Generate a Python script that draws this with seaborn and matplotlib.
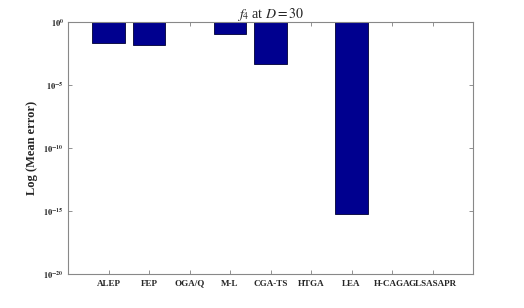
import matplotlib
matplotlib.use("Agg")
import matplotlib.pyplot as plt
import seaborn as sns
import numpy as np

# data (mean error, log scale)
methods = ["ALEP", "FEP", "OGA/Q", "M-L", "CGA-TS", "HTGA", "LEA", "H-CAGA", "GLSASAPR"]
mean_error = [0.023, 0.015, np.nan, 0.11, 4.4e-4, np.nan, 6e-16, np.nan, np.nan]
ytick_exps = [0, -5, -10, -15, -20]

sns.set_style("white")
plt.rcParams["font.family"] = ["Liberation Serif", "DejaVu Serif"]
plt.rcParams["mathtext.fontset"] = "stix"

fig = plt.figure(figsize=(5.24, 3.08), dpi=100)
ax = fig.add_axes([0.13, 0.1104, 0.7727, 0.8182])

# bars hang down from 10^0, as in the MATLAB original
heights = [v - 1 for v in mean_error]
sns.barplot(x=methods, y=heights, bottom=1, color="#00008f", edgecolor="#000033",
            linewidth=0.6, width=0.8, saturation=1, ax=ax)

ax.set_yscale("log")
ax.set_ylim(1e-20, 1)
ax.set_xlim(-1, len(methods))

ax.set_yticks([10.0 ** e for e in ytick_exps])
ax.set_yticklabels([r"$\mathbf{10^{%d}}$" % e for e in ytick_exps], fontsize=6)
ax.minorticks_off()
ax.set_xticks(range(len(methods)))
ax.set_xticklabels(methods, fontsize=6.5, fontweight="bold")

ax.tick_params(axis="both", direction="in", length=3, width=0.5, color="#666666",
               top=True, right=True, bottom=True, left=True)
ax.tick_params(axis="y", pad=3)
ax.tick_params(axis="x", pad=4)
for s in ax.spines.values():
    s.set_color("#888888")
    s.set_linewidth(0.8)

ax.set_ylabel("Log (Mean error)", fontsize=9, fontweight="bold")
ax.yaxis.set_label_coords(-0.075, 0.5)
ax.set_xlabel("")
ax.set_title(r"$f_4$ at $D = 30$", fontsize=10, pad=3)

fig.savefig("out.png", dpi=100)
